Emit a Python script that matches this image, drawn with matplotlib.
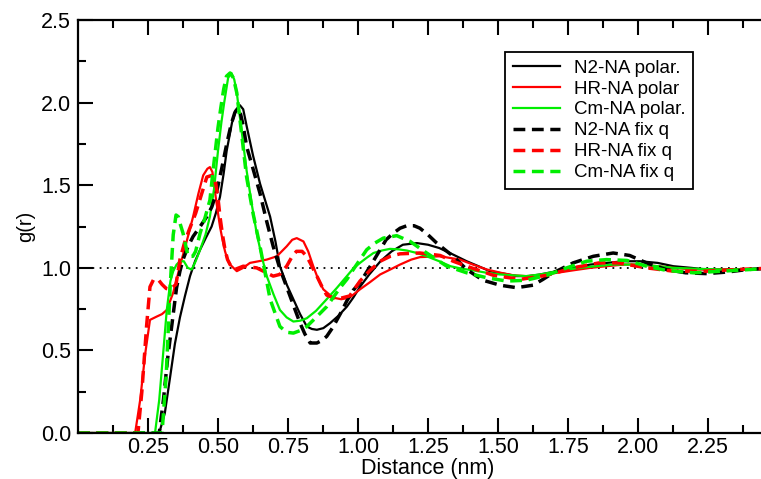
import numpy as np
import matplotlib.pyplot as plt

plt.rcParams['font.family'] = ['Liberation Sans', 'DejaVu Sans']

# - g(r) curves, distance in nm
n2_pol_r = [0.0, 0.29, 0.31, 0.329, 0.346, 0.364, 0.382, 0.40, 0.418, 0.436, 0.456, 0.477, 0.492, 0.507, 0.52, 0.531, 0.55, 0.565, 0.578, 0.59, 0.602, 0.625, 0.65, 0.668, 0.686, 0.705, 0.721, 0.745, 0.769, 0.793, 0.817, 0.835, 0.853, 0.876, 0.9, 0.93, 0.96, 0.983, 1.007, 1.04, 1.08, 1.12, 1.16, 1.21, 1.25, 1.29, 1.34, 1.388, 1.43, 1.47, 1.52, 1.566, 1.61, 1.65, 1.71, 1.768, 1.83, 1.887, 1.95, 2.007, 2.07, 2.126, 2.19, 2.245, 2.32, 2.39, 2.5]
n2_pol_g = [0.0, 0.0, 0.12, 0.34, 0.54, 0.7, 0.83, 0.95, 1.04, 1.11, 1.18, 1.25, 1.33, 1.43, 1.57, 1.71, 1.88, 1.96, 1.985, 1.96, 1.86, 1.68, 1.51, 1.41, 1.31, 1.16, 1.01, 0.9, 0.81, 0.72, 0.645, 0.63, 0.625, 0.635, 0.665, 0.71, 0.765, 0.82, 0.885, 0.96, 1.04, 1.1, 1.14, 1.15, 1.14, 1.12, 1.08, 1.04, 1.01, 0.98, 0.965, 0.95, 0.95, 0.96, 0.98, 1.0, 1.02, 1.03, 1.04, 1.04, 1.03, 1.01, 1.0, 0.99, 0.99, 0.99, 1.0]

hr_pol_r = [0.0, 0.204, 0.222, 0.24, 0.257, 0.281, 0.3, 0.317, 0.34, 0.364, 0.388, 0.411, 0.43, 0.447, 0.462, 0.471, 0.48, 0.49, 0.5, 0.507, 0.516, 0.525, 0.534, 0.543, 0.567, 0.59, 0.614, 0.645, 0.674, 0.71, 0.745, 0.765, 0.781, 0.805, 0.822, 0.84, 0.858, 0.876, 0.91, 0.94, 0.97, 1.007, 1.04, 1.079, 1.115, 1.15, 1.19, 1.221, 1.293, 1.364, 1.41, 1.46, 1.51, 1.555, 1.6, 1.65, 1.71, 1.768, 1.83, 1.887, 1.95, 2.007, 2.07, 2.126, 2.2, 2.3, 2.4, 2.5]
hr_pol_g = [0.0, 0.0, 0.2, 0.48, 0.685, 0.705, 0.72, 0.745, 0.85, 1.01, 1.16, 1.31, 1.45, 1.56, 1.6, 1.61, 1.58, 1.45, 1.33, 1.25, 1.17, 1.1, 1.05, 1.02, 0.98, 1.0, 1.03, 1.04, 1.05, 1.07, 1.13, 1.17, 1.18, 1.16, 1.1, 1.01, 0.93, 0.87, 0.82, 0.81, 0.82, 0.87, 0.91, 0.96, 0.99, 1.02, 1.05, 1.065, 1.07, 1.05, 1.02, 0.99, 0.97, 0.955, 0.95, 0.955, 0.97, 0.985, 1.0, 1.01, 1.02, 1.02, 1.01, 1.0, 0.99, 0.99, 0.99, 1.0]

cm_pol_r = [0.0, 0.275, 0.29, 0.305, 0.317, 0.33, 0.34, 0.352, 0.364, 0.378, 0.392, 0.406, 0.42, 0.436, 0.455, 0.471, 0.486, 0.5, 0.512, 0.522, 0.536, 0.548, 0.558, 0.567, 0.585, 0.602, 0.62, 0.638, 0.656, 0.674, 0.698, 0.721, 0.745, 0.769, 0.793, 0.817, 0.85, 0.888, 0.925, 0.96, 0.985, 1.007, 1.03, 1.055, 1.085, 1.114, 1.145, 1.174, 1.21, 1.245, 1.29, 1.33, 1.37, 1.41, 1.46, 1.507, 1.55, 1.6, 1.65, 1.697, 1.745, 1.79, 1.85, 1.91, 1.96, 2.007, 2.07, 2.126, 2.2, 2.3, 2.4, 2.5]
cm_pol_g = [0.0, 0.0, 0.2, 0.5, 0.745, 0.92, 0.98, 1.02, 1.04, 1.04, 1.0, 0.99, 1.04, 1.11, 1.2, 1.31, 1.48, 1.71, 1.88, 2.0, 2.15, 2.18, 2.14, 2.06, 1.82, 1.59, 1.39, 1.21, 1.07, 0.95, 0.84, 0.745, 0.7, 0.675, 0.68, 0.695, 0.74, 0.81, 0.88, 0.95, 1.0, 1.03, 1.06, 1.09, 1.105, 1.115, 1.112, 1.105, 1.09, 1.07, 1.04, 1.01, 0.995, 0.985, 0.97, 0.96, 0.955, 0.95, 0.96, 0.975, 0.99, 1.0, 1.01, 1.02, 1.02, 1.02, 1.01, 1.0, 0.995, 0.99, 0.99, 1.0]

n2_fix_r = [0.0, 0.29, 0.305, 0.32, 0.34, 0.352, 0.364, 0.375, 0.393, 0.411, 0.436, 0.46, 0.478, 0.495, 0.513, 0.531, 0.547, 0.56, 0.567, 0.578, 0.59, 0.602, 0.625, 0.65, 0.674, 0.697, 0.72, 0.745, 0.77, 0.793, 0.81, 0.829, 0.853, 0.87, 0.888, 0.91, 0.936, 0.96, 0.983, 1.007, 1.04, 1.079, 1.1, 1.126, 1.15, 1.174, 1.2, 1.221, 1.25, 1.281, 1.31, 1.34, 1.388, 1.446, 1.507, 1.566, 1.625, 1.66, 1.697, 1.768, 1.84, 1.911, 1.97, 2.03, 2.1, 2.17, 2.245, 2.32, 2.39, 2.5]
n2_fix_g = [0.0, 0.0, 0.2, 0.45, 0.72, 0.88, 0.98, 1.05, 1.13, 1.19, 1.25, 1.31, 1.37, 1.46, 1.6, 1.75, 1.87, 1.94, 1.96, 1.95, 1.86, 1.735, 1.6, 1.45, 1.28, 1.13, 1.0, 0.885, 0.77, 0.665, 0.6, 0.545, 0.545, 0.56, 0.585, 0.64, 0.72, 0.8, 0.865, 0.91, 1.0, 1.11, 1.17, 1.21, 1.24, 1.255, 1.255, 1.24, 1.2, 1.15, 1.11, 1.07, 0.99, 0.925, 0.895, 0.88, 0.895, 0.93, 0.97, 1.03, 1.07, 1.09, 1.075, 1.03, 0.99, 0.97, 0.965, 0.975, 0.99, 1.0]

hr_fix_r = [0.0, 0.214, 0.228, 0.245, 0.257, 0.27, 0.286, 0.3, 0.315, 0.33, 0.35, 0.364, 0.38, 0.397, 0.42, 0.44, 0.46, 0.478, 0.49, 0.5, 0.507, 0.516, 0.525, 0.534, 0.543, 0.56, 0.59, 0.638, 0.697, 0.72, 0.745, 0.765, 0.78, 0.8, 0.817, 0.835, 0.853, 0.87, 0.888, 0.924, 0.97, 1.007, 1.04, 1.079, 1.115, 1.15, 1.221, 1.293, 1.34, 1.388, 1.44, 1.483, 1.578, 1.674, 1.768, 1.86, 1.93, 2.03, 2.126, 2.245, 2.35, 2.5]
hr_fix_g = [0.0, 0.0, 0.25, 0.65, 0.885, 0.93, 0.93, 0.9, 0.875, 0.87, 0.9, 1.05, 1.15, 1.23, 1.33, 1.44, 1.55, 1.56, 1.53, 1.42, 1.31, 1.2, 1.11, 1.05, 1.02, 0.99, 1.01, 1.0, 0.95, 0.96, 1.01, 1.07, 1.1, 1.1, 1.07, 1.01, 0.95, 0.89, 0.835, 0.81, 0.83, 0.92, 0.98, 1.04, 1.07, 1.085, 1.09, 1.075, 1.04, 1.01, 0.98, 0.955, 0.93, 0.955, 1.0, 1.03, 1.03, 1.0, 0.98, 0.98, 0.99, 1.0]

cm_fix_r = [0.0, 0.3, 0.315, 0.329, 0.34, 0.35, 0.358, 0.366, 0.375, 0.384, 0.393, 0.41, 0.42, 0.436, 0.453, 0.471, 0.483, 0.5, 0.51, 0.52, 0.53, 0.543, 0.555, 0.567, 0.585, 0.602, 0.625, 0.65, 0.668, 0.686, 0.705, 0.721, 0.745, 0.769, 0.793, 0.817, 0.85, 0.888, 0.936, 0.96, 0.983, 1.007, 1.031, 1.06, 1.09, 1.138, 1.186, 1.245, 1.317, 1.388, 1.46, 1.531, 1.6, 1.674, 1.745, 1.816, 1.887, 1.96, 2.03, 2.1, 2.198, 2.3, 2.4, 2.5]
cm_fix_g = [0.0, 0.0, 0.35, 0.885, 1.2, 1.32, 1.31, 1.26, 1.21, 1.14, 1.07, 1.07, 1.1, 1.21, 1.3, 1.41, 1.6, 1.85, 1.97, 2.08, 2.16, 2.18, 2.15, 2.06, 1.8, 1.55, 1.33, 1.13, 0.97, 0.81, 0.72, 0.645, 0.61, 0.605, 0.62, 0.645, 0.7, 0.765, 0.88, 0.93, 0.99, 1.05, 1.11, 1.15, 1.18, 1.195, 1.16, 1.09, 1.01, 0.97, 0.94, 0.92, 0.925, 0.955, 1.0, 1.04, 1.05, 1.045, 1.01, 0.985, 0.97, 0.98, 0.99, 1.0]

labels = ['N2-NA polar.', 'HR-NA polar', 'Cm-NA polar.', 'N2-NA fix q', 'HR-NA fix q', 'Cm-NA fix q']

# - Figure, axes run a little past the right edge
fig = plt.figure(figsize=(7.61, 4.79), dpi=100)
ax = fig.add_axes([0.1025, 0.096, 0.92, 0.862])

dash = (0, (3.4, 1.9))
ax.plot(n2_pol_r, n2_pol_g, color='black', lw=1.6, label=labels[0])
ax.plot(hr_pol_r, hr_pol_g, color='#ff0000', lw=1.6, label=labels[1])
ax.plot(cm_pol_r, cm_pol_g, color='#00ee00', lw=1.6, label=labels[2])
ax.plot(n2_fix_r, n2_fix_g, color='black', lw=2.5, ls=dash, label=labels[3])
ax.plot(hr_fix_r, hr_fix_g, color='#ff0000', lw=2.5, ls=dash, label=labels[4])
ax.plot(cm_fix_r, cm_fix_g, color='#00ee00', lw=2.5, ls=dash, label=labels[5])

# - Reference line at g(r) = 1
ax.axhline(1.0, color='black', lw=1.3, ls=(0, (1, 3)), zorder=0)

ax.set_xlim(0, 2.5)
ax.set_ylim(0, 2.5)
ax.set_xticks([0.25, 0.5, 0.75, 1.0, 1.25, 1.5, 1.75, 2.0, 2.25])
ax.set_xticks(np.arange(0.125, 2.5, 0.25), minor=True)
ax.set_yticks([0.0, 0.5, 1.0, 1.5, 2.0, 2.5])
ax.set_yticks([0.25, 0.75, 1.25, 1.75, 2.25], minor=True)
ax.xaxis.set_major_formatter(plt.FormatStrFormatter('%.2f'))
ax.yaxis.set_major_formatter(plt.FormatStrFormatter('%.1f'))
ax.tick_params(which='both', direction='in', top=True, right=True, width=1.5, labelsize=15.5)
ax.tick_params(which='major', length=11)
ax.tick_params(which='minor', length=6)
ax.tick_params(axis='x', which='major', pad=3)
ax.tick_params(axis='y', which='major', pad=5)
for s in ax.spines.values():
    s.set_linewidth(1.6)

# - Labels
ax.set_xlabel('Distance (nm)', fontsize=15.5, labelpad=0)
ax.set_ylabel('g(r)', fontsize=14.5, labelpad=4)

leg = ax.legend(loc='upper left', bbox_to_anchor=(0.61, 0.9225), borderaxespad=0,
                fontsize=13.5, frameon=True, fancybox=False, framealpha=1,
                edgecolor='black', handlelength=2.55, labelspacing=0.2,
                borderpad=0.4, handletextpad=0.7)
leg.get_frame().set_linewidth(1.3)

# - Save figure
plt.savefig('out.png', dpi=100)
